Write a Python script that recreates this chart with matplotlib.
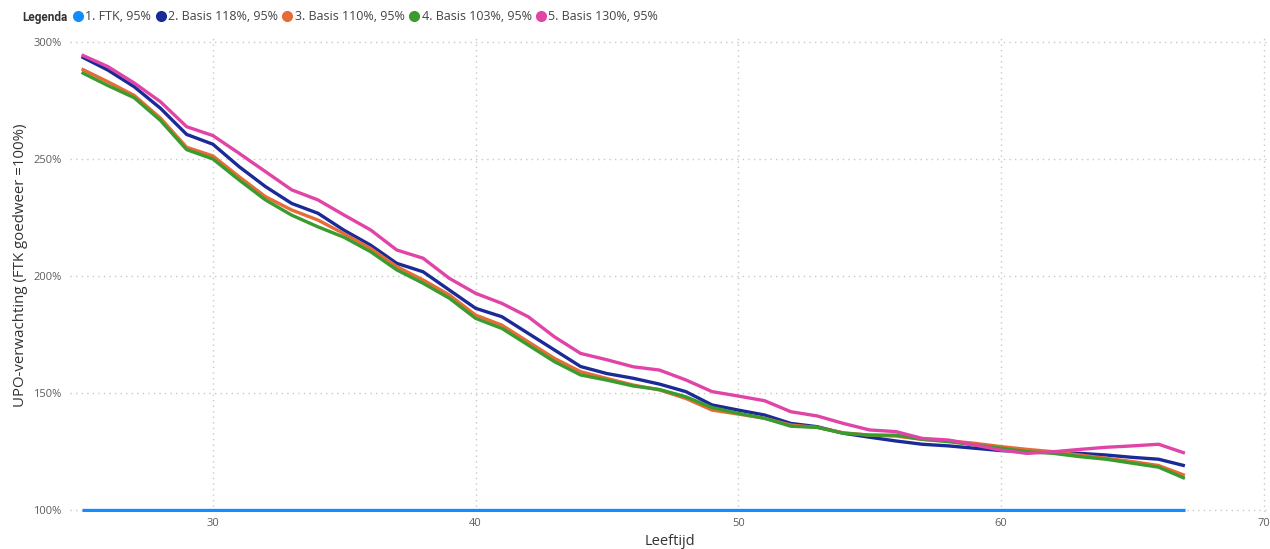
import numpy as np
import matplotlib
matplotlib.use("Agg")
import matplotlib.pyplot as plt
from matplotlib.lines import Line2D

plt.rcParams['font.family'] = ['Open Sans', 'DejaVu Sans']

# leeftijden 25 t/m 67
leeftijd = list(range(25, 68))

ftk = [100] * len(leeftijd)
basis_118 = [293.7, 288, 280.9, 271.7, 260.5, 256.3, 246.7, 238.2, 231, 226.8,
             219.5, 213.2, 205.4, 201.8, 194, 186.2, 182.6, 175.5, 168.4, 161.3,
             158.3, 156.3, 153.8, 150.6, 144.9, 142.7, 140.6, 137, 135.6, 132.8,
             131.1, 129.5, 128.1, 127.4, 126.4, 125.4, 124.9, 124.6, 124.2, 123.5,
             122.5, 121.7, 118.9]
basis_110 = [288.5, 283, 277.2, 267.5, 255, 251.3, 242.4, 233.9, 228.2, 223.9,
             218, 211.8, 204, 198.3, 191.9, 183.3, 179, 171.9, 164.8, 159.1,
             156.2, 153.4, 151.3, 147.7, 142.7, 141, 139.2, 136.3, 135.3, 133,
             132, 131.6, 130.2, 129.6, 128.5, 127.1, 125.9, 124.9, 123.5, 122.1,
             120.7, 119, 114.8]
basis_103 = [287, 281.4, 276.2, 266.5, 254, 250, 241, 232.5, 226, 221,
             216.5, 210.4, 202.6, 196.9, 190.5, 181.9, 177.6, 170.5, 163.4, 157.7,
             155.5, 153, 151.5, 148.4, 143.8, 141.3, 139.2, 135.8, 135.3, 132.8,
             132, 132, 130.2, 129.2, 127.8, 126.4, 124.9, 124.2, 122.8, 121.7,
             120, 118.3, 113.5]
basis_130 = [294.5, 289.5, 282.5, 274.5, 263.8, 260, 252.4, 244.6, 236.8, 232.5,
             226, 219.7, 211.1, 207.6, 199, 192.6, 188.3, 182.6, 174, 166.9,
             164.2, 161.2, 159.8, 155.6, 150.6, 148.7, 146.7, 142, 140.2, 137,
             134.2, 133.5, 130.6, 129.9, 127.8, 125.6, 124.2, 124.9, 125.9, 126.8,
             127.4, 128.1, 124.3]

labels = ['1. FTK, 95%', '2. Basis 118%, 95%', '3. Basis 110%, 95%',
          '4. Basis 103%, 95%', '5. Basis 130%, 95%']
series = [ftk, basis_118, basis_110, basis_103, basis_130]
colors = ['#118DFF', '#1A2A96', '#E66C37', '#3A9B2F', '#E044A7']

fig = plt.figure(figsize=(12.7, 5.49), dpi=100)
ax = fig.add_axes([70 / 1270, 37 / 549, 1200 / 1270, 474 / 549])

for s, c, l in zip(series, colors, labels):
    ax.plot(leeftijd, s, color=c, lw=2.4, label=l, solid_capstyle='butt')

ax.set_xlim(24.56, 70.24)
ax.set_ylim(99.15, 301.7)
ax.set_xticks([30, 40, 50, 60, 70])
ax.set_yticks([100, 150, 200, 250, 300])
ax.set_yticklabels(['%d%%' % v for v in [100, 150, 200, 250, 300]])
ax.grid(True, linestyle=(0, (1, 3)), color='#c8c8c8', lw=1)
ax.set_axisbelow(True)
for sp in ax.spines.values():
    sp.set_visible(False)
ax.tick_params(length=0, labelsize=8, colors='#605E5C')
ax.tick_params(axis='y', pad=6)
ax.tick_params(axis='x', pad=4)

ax.set_xlabel('Leeftijd', fontsize=10.5, color='#333333', labelpad=4)
ax.set_ylabel('UPO-verwachting (FTK goedweer =100%)', fontsize=10.8, color='#333333')
ax.yaxis.set_label_coords(-0.035, 0.52)

# legenda bovenaan
fig.text(22 / 1270, 1 - 17 / 549, 'Legenda', fontsize=8.5, fontweight='bold',
         family='Roboto', color='#333333', va='center', ha='left')
handles = [Line2D([0], [0], marker='o', color='w', markerfacecolor=c,
                  markeredgecolor=c, markersize=7) for c in colors]
fig.legend(handles, labels, loc='center left', bbox_to_anchor=(74 / 1270, 1 - 17 / 549),
           ncol=5, frameon=False, fontsize=9, handlelength=0.6, handletextpad=0.3,
           columnspacing=0.45, labelcolor='#444444', borderaxespad=0, borderpad=0)

fig.savefig('out.png', dpi=100)
